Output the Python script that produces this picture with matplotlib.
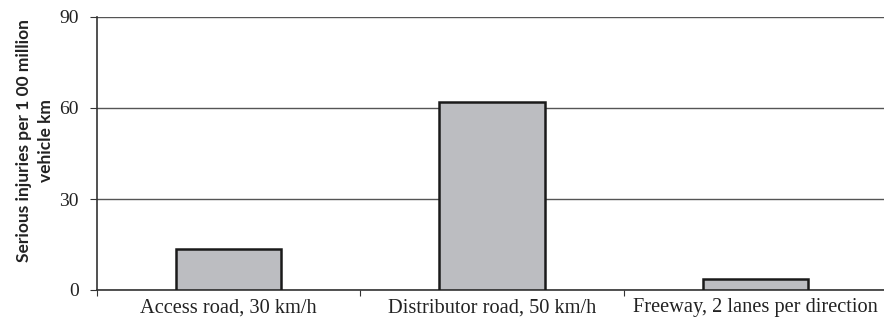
import matplotlib.pyplot as plt
import numpy as np

categories = ['Access road, 30 km/h', 'Distributor road, 50 km/h',
              'Freeway, 2 lanes per direction']
injuries = [13.5, 62, 3.6]
y_ticks = [0, 30, 60, 90]

fig = plt.figure(figsize=(8.84, 3.24), dpi=100)
ax = fig.add_axes([97 / 884, 34 / 324, 790 / 884, 273 / 324])

x = np.arange(len(categories))
ax.bar(x, injuries, width=0.4, color='#bcbdc1', edgecolor='#1a1a1a',
       linewidth=1.8, zorder=3)

ax.set_ylim(0, 90)
ax.set_xlim(-0.5, 2.5)
ax.set_yticks(y_ticks)
ax.set_yticklabels([str(v) for v in y_ticks], family='Liberation Serif',
                   fontsize=14, color='#222222')
ax.yaxis.grid(True, color='#555555', linewidth=1.0, zorder=0)

# ticks on category boundaries, labels centred on bars
ax.set_xticks([-0.5, 0.5, 1.5, 2.5])
ax.set_xticklabels([])
ax.set_xticks(x, minor=True)
ax.set_xticklabels(categories, minor=True, family='Liberation Serif',
                   fontsize=14.7, color='#222222')
ax.tick_params(axis='x', which='minor', length=0, pad=6)
ax.tick_params(axis='x', which='major', direction='out', length=4,
               color='#333333')
ax.tick_params(axis='y', direction='out', length=5, color='#333333', pad=8)

for side in ['top', 'right']:
    ax.spines[side].set_visible(False)
ax.spines['left'].set_color('#333333')
ax.spines['left'].set_linewidth(1.2)
ax.spines['bottom'].set_color('#333333')
ax.spines['bottom'].set_linewidth(1.2)

# y label sits a bit above the axes centre, as in the original
fig.text(35 / 884, 1 - 141 / 324,
         'Serious injuries per 1 00 million\nvehicle km',
         family='Lato', fontweight='bold', fontsize=12.5, color='#222222',
         rotation=90, ha='center', va='center', linespacing=1.5,
         multialignment='center')

fig.savefig('out.png', dpi=100)
